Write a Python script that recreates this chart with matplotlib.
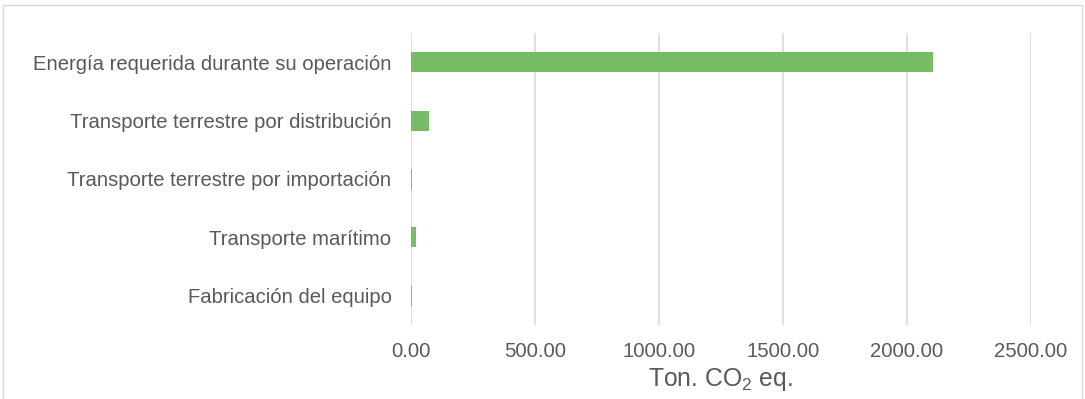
import matplotlib
matplotlib.use("Agg")
import matplotlib.pyplot as plt
from matplotlib.patches import Rectangle

plt.rcParams["font.family"] = ["Liberation Sans", "DejaVu Sans"]
plt.rcParams["mathtext.fontset"] = "custom"
plt.rcParams["mathtext.rm"] = "Liberation Sans"

categories = [
    "Energía requerida durante su operación",
    "Transporte terrestre por distribución",
    "Transporte terrestre por importación",
    "Transporte marítimo",
    "Fabricación del equipo",
]
values = [2105, 73, 3, 20, 3]
xticks = [0, 500, 1000, 1500, 2000, 2500]

W, H = 1085, 399
fig = plt.figure(figsize=(W / 100, H / 100), dpi=100)
ax = fig.add_axes([411 / W, 1 - 325 / H, (1031 - 411) / W, (325 - 33) / H])

ypos = list(range(len(categories)))
ax.barh(ypos, values, height=0.34, color="#77bd67", zorder=3)
ax.set_ylim(len(categories) - 0.5, -0.5)
ax.set_xlim(0, 2500)
ax.set_yticks(ypos)
ax.set_yticklabels(categories)
ax.set_xticks(xticks)
ax.set_xticklabels([f"{v:.2f}" for v in xticks])

ax.grid(axis="x", color="#d9d9d9", linewidth=1.2, zorder=0)
for s in ax.spines.values():
    s.set_visible(False)
ax.tick_params(axis="both", length=0, colors="#595959", labelsize=14.6)
ax.tick_params(axis="y", pad=14)
ax.tick_params(axis="x", pad=12)
ax.set_xlabel(r"Ton. CO$\mathregular{_2}$ eq.", fontsize=17.8, color="#595959", labelpad=4)

# light frame round the chart
fig.patches.append(Rectangle((3 / W, -0.05), (1082 - 3) / W, 1.05 - 5 / H,
                             transform=fig.transFigure, fill=False,
                             edgecolor="#d9d9d9", linewidth=1))

fig.savefig("out.png", dpi=100)
